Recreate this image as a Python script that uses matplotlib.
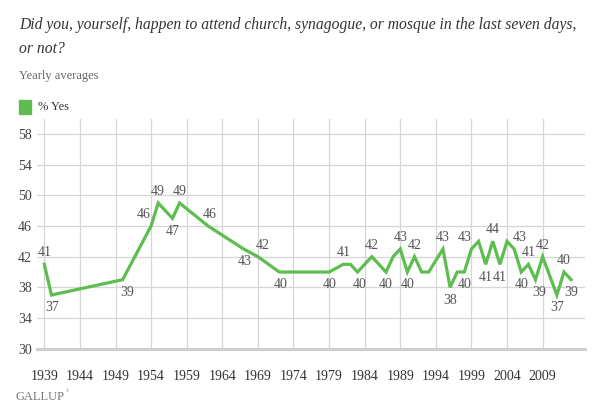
import matplotlib
matplotlib.use("Agg")
import matplotlib.pyplot as plt

# ---- data (yearly averages, % Yes) ----
years = [1939, 1940, 1950, 1954, 1955, 1957, 1958, 1962, 1967, 1969, 1972,
         1979, 1981, 1982, 1983, 1985, 1987, 1988, 1989, 1990, 1991, 1992,
         1993, 1995, 1996, 1997, 1998, 1999, 2000, 2001, 2002, 2003, 2004,
         2005, 2006, 2007, 2008, 2009, 2011, 2012, 2013]
pct_yes = [41, 37, 39, 46, 49, 47, 49, 46, 43, 42, 40,
           40, 41, 41, 40, 42, 40, 42, 43, 40, 42, 40,
           40, 43, 38, 40, 40, 43, 44, 41, 44, 41, 44,
           43, 40, 41, 39, 42, 37, 40, 39]

# which years get a value label, and where it sits (a = above, b = below, dx px)
label_years = [1939, 1940, 1950, 1954, 1955, 1957, 1958, 1962, 1967, 1969, 1972,
               1979, 1981, 1983, 1985, 1987, 1989, 1990, 1991, 1995, 1996, 1998,
               1999, 2001, 2002, 2003, 2005, 2006, 2007, 2008, 2009, 2011, 2012, 2013]
label_side = ['a', 'b', 'b', 'a', 'a', 'b', 'a', 'a', 'b', 'a', 'b',
              'b', 'a', 'b', 'a', 'b', 'a', 'b', 'a', 'a', 'b', 'b',
              'a', 'b', 'a', 'b', 'a', 'b', 'a', 'b', 'a', 'b', 'a', 'b']
label_dx = [0, 1, 5, -7, 0, 0, 0, 2, 1, 5, 1,
            1, 0, 2, 0, 0, 0, 0, 0, 0, 0, 0,
            -7, 0, 0, 0, 6, 0, 0, 4, 0, 0, 0, 0]

x_ticks = list(range(1939, 2010, 5))
y_ticks = list(range(30, 59, 4))

GREEN = '#5dbd4f'
SERIF = ['Liberation Serif', 'DejaVu Serif']

fig = plt.figure(figsize=(6.03, 4.16), dpi=100)
ax = fig.add_axes([0.0617, 0.1618, 0.909, 0.553])

ax.plot(years, pct_yes, color=GREEN, lw=2.3, solid_joinstyle='miter', zorder=3)

for yr, side, dx in zip(label_years, label_side, label_dx):
    v = pct_yes[years.index(yr)]
    dy = 11.5 if side == 'a' else -12.7
    ax.annotate(str(v), (yr, v), xytext=(dx, dy), textcoords='offset pixels',
                ha='center', va='center', fontsize=10, family=SERIF,
                color='#555555', zorder=4)

ax.set_xlim(1938, 2015)
ax.set_ylim(30, 60)
ax.set_xticks(x_ticks)
ax.set_yticks(y_ticks)
ax.set_xticklabels([str(t) for t in x_ticks], family=SERIF, fontsize=10, color='#333333')
ax.set_yticklabels([str(t) for t in y_ticks], family=SERIF, fontsize=10, color='#444444')
ax.tick_params(axis='x', length=0, pad=15)
ax.tick_params(axis='y', length=0, pad=4)

ax.grid(True, color='#d6d6d6', lw=0.9, zorder=0)
for s in ['top', 'right', 'left']:
    ax.spines[s].set_visible(False)
ax.spines['bottom'].set_color('#cfcfcf')
ax.spines['bottom'].set_linewidth(2.2)

# header text
fig.text(0.031, 1 - 25.3 / 416,
         'Did you, yourself, happen to attend church, synagogue, or mosque in the last seven days,',
         family=SERIF, style='italic', fontsize=11.25, color='#333333', va='center')
fig.text(0.031, 1 - 48.6 / 416, 'or not?',
         family=SERIF, style='italic', fontsize=11.25, color='#333333', va='center')
fig.text(0.031, 1 - 75.9 / 416, 'Yearly averages',
         family=SERIF, fontsize=9, color='#666666', va='center')

# legend
fig.patches.append(plt.Rectangle((18.5 / 603, 1 - 114 / 416), 12.5 / 603, 13.5 / 416,
                                 transform=fig.transFigure, color=GREEN))
fig.text(37.5 / 603, 1 - 106.5 / 416, '% Yes', family=SERIF, fontsize=9,
         color='#333333', va='center')

# footer
fig.text(16 / 603, 1 - 397 / 416, 'GALLUP', family=SERIF, fontsize=9,
         color='#777777', va='center')
fig.text(66 / 603, 1 - 391 / 416, '®', family=SERIF, fontsize=3,
         color='#777777', va='center')

fig.savefig('out.png', dpi=100)
